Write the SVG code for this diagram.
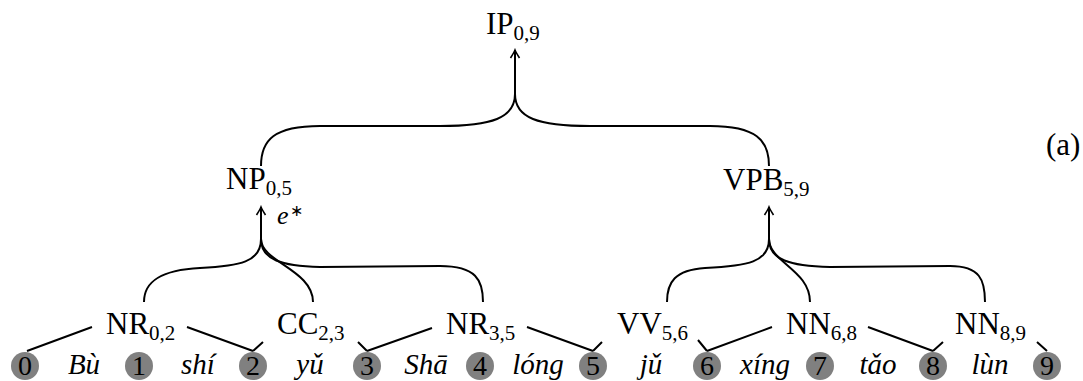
<svg xmlns="http://www.w3.org/2000/svg" width="1083" height="381" viewBox="0 0 1083 381">
<style>
text{font-family:"Liberation Serif","Times New Roman",serif;fill:#000;}
.lbl{font-size:31px;}
.sub{font-size:21px;}
.w{font-size:29px;font-style:italic;text-anchor:middle;}
.num{font-size:28px;text-anchor:middle;}
.dot{fill:#808080;}
.edge{fill:none;stroke:#000;stroke-width:2;}
</style>
<defs>
<marker id="arr" viewBox="-9 -6 11 12" markerWidth="11" markerHeight="12" refX="0" refY="0" orient="auto" markerUnits="userSpaceOnUse">
<path d="M-8,-4.5 Q-2.5,-1 0,0 Q-2.5,1 -8,4.5" fill="none" stroke="#000" stroke-width="1.6"/>
</marker>
</defs>
<g id="connectors">
<path class="edge" d="M515,96 L515,50" marker-end="url(#arr)"/>
<path class="edge" d="M515,94 C515,118 492,126 440,126 L320,126 C274,126 261,140 261,166"/>
<path class="edge" d="M515,94 C515,118 538,126 590,126 L710,126 C756,126 769,140 769,166"/>
<path class="edge" d="M261,241 L261,207" marker-end="url(#arr)"/>
<path class="edge" d="M261,239 C261,262 240,266 200,268 C160,270 144,282 144,302"/>
<path class="edge" d="M261,239 C261,262 313,270 313,302"/>
<path class="edge" d="M261,239 C261,260 282,266 320,267 L440,266 C476,266 483,280 483,302"/>
<path class="edge" d="M769,241 L769,207" marker-end="url(#arr)"/>
<path class="edge" d="M769,239 C769,262 748,266 705,268 C675,270 667,282 667,302"/>
<path class="edge" d="M769,239 C769,262 810,270 810,302"/>
<path class="edge" d="M769,239 C769,260 790,266 830,267 L950,266 C980,266 985,280 985,302"/>
<path class="edge" d="M92,327 L27,351 M187,327 L253,351"/>
<path class="edge" d="M263,342 L253,351 M358,342 L367,351"/>
<path class="edge" d="M432,328 L367,351 M527,327 L593,351"/>
<path class="edge" d="M602,342 L593,351 M698,340 L707,351"/>
<path class="edge" d="M772,327 L707,351 M868,327 L933,351"/>
<path class="edge" d="M943,342 L933,351 M1037,342 L1047,351"/>
</g>
<g id="IP"><text class="lbl" x="486" y="34">IP<tspan class="sub" dy="6">0,9</tspan></text></g>
<g id="NP"><text class="lbl" x="226" y="189">NP<tspan class="sub" dy="6">0,5</tspan></text>
<text x="277" y="224" font-size="26" font-style="italic">e</text><text x="290" y="216" font-size="16">∗</text></g>
<g id="VPB"><text class="lbl" x="723" y="190">VPB<tspan class="sub" dy="6">5,9</tspan></text></g>
<g id="NR02"><text class="lbl" x="106" y="334">NR<tspan class="sub" dy="6">0,2</tspan></text></g>
<g id="CC23"><text class="lbl" x="277" y="334">CC<tspan class="sub" dy="6">2,3</tspan></text></g>
<g id="NR35"><text class="lbl" x="446" y="334">NR<tspan class="sub" dy="6">3,5</tspan></text></g>
<g id="VV56"><text class="lbl" x="617" y="334">VV<tspan class="sub" dy="6">5,6</tspan></text></g>
<g id="NN68"><text class="lbl" x="786" y="334">NN<tspan class="sub" dy="6">6,8</tspan></text></g>
<g id="NN89"><text class="lbl" x="955" y="334">NN<tspan class="sub" dy="6">8,9</tspan></text></g>
<g id="positions">
<g id="p0"><circle class="dot" cx="25" cy="366" r="14"/><text class="num" x="25" y="375">0</text></g>
<g id="p1"><circle class="dot" cx="139" cy="366" r="14"/><text class="num" x="139" y="375">1</text></g>
<g id="p2"><circle class="dot" cx="253" cy="366" r="14"/><text class="num" x="253" y="375">2</text></g>
<g id="p3"><circle class="dot" cx="367" cy="366" r="14"/><text class="num" x="367" y="375">3</text></g>
<g id="p4"><circle class="dot" cx="480" cy="366" r="14"/><text class="num" x="480" y="375">4</text></g>
<g id="p5"><circle class="dot" cx="593" cy="366" r="14"/><text class="num" x="593" y="375">5</text></g>
<g id="p6"><circle class="dot" cx="707" cy="366" r="14"/><text class="num" x="707" y="375">6</text></g>
<g id="p7"><circle class="dot" cx="820" cy="366" r="14"/><text class="num" x="820" y="375">7</text></g>
<g id="p8"><circle class="dot" cx="933" cy="366" r="14"/><text class="num" x="933" y="375">8</text></g>
<g id="p9"><circle class="dot" cx="1047" cy="366" r="14"/><text class="num" x="1047" y="375">9</text></g>
</g>
<g id="words">
<text class="w" x="84" y="374">Bù</text>
<text class="w" x="198" y="374">shí</text>
<text class="w" x="310" y="374">yǔ</text>
<text class="w" x="426" y="374">Shā</text>
<text class="w" x="538" y="374">lóng</text>
<text class="w" x="651" y="374">jǔ</text>
<text class="w" x="765" y="374">xíng</text>
<text class="w" x="878" y="374">tǎo</text>
<text class="w" x="990" y="374">lùn</text>
</g>
<g id="caption"><text class="lbl" x="1046" y="155">(a)</text></g>
</svg>
